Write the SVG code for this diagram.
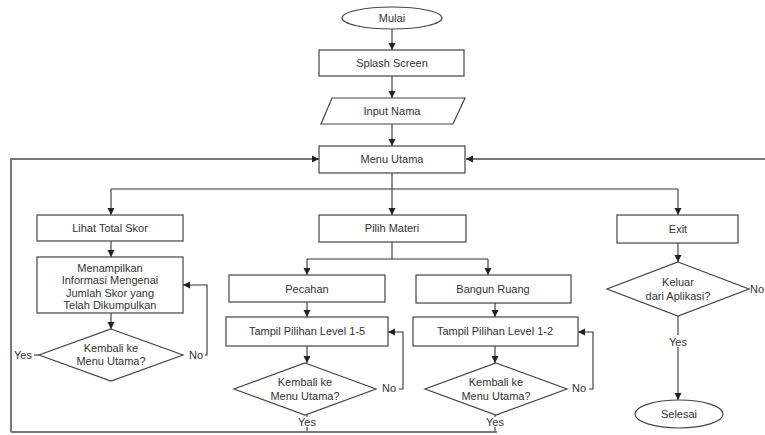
<svg xmlns="http://www.w3.org/2000/svg" width="765" height="435" viewBox="0 0 765 435">
<defs>
<marker id="ah" markerWidth="8" markerHeight="8" refX="7" refY="4" orient="auto" markerUnits="userSpaceOnUse">
<path d="M0,0.5 L7,4 L0,7.5 Z" fill="#222"/>
</marker>
<style>
.s{fill:#fff;stroke:#444;stroke-width:1.2}
.t{font-family:"Liberation Sans",Arial,sans-serif;font-size:11px;fill:#333;text-anchor:middle}
.c{fill:none;stroke:#333;stroke-width:1.1}
.a{marker-end:url(#ah)}
.g{fill:none;stroke:#777;stroke-width:2}
</style>
</defs>
<rect width="765" height="435" fill="#fff"/>
<g id="connectors">
<line class="c a" x1="392" y1="29" x2="392" y2="50"/>
<line class="c a" x1="392" y1="76" x2="392" y2="98"/>
<line class="c a" x1="392" y1="124" x2="392" y2="146"/>
<polyline class="g a" points="11,432 11,159 319,159"/>
<line class="g a" x1="765" y1="159" x2="466" y2="159"/>
<polyline class="c" points="392,173 392,189"/>
<polyline class="c a" points="111,189 111,215"/>
<line class="c" x1="111" y1="189" x2="678" y2="189"/>
<line class="c a" x1="392" y1="189" x2="392" y2="215"/>
<line class="c a" x1="678" y1="189" x2="678" y2="215"/>
<line class="c a" x1="111" y1="241" x2="111" y2="257"/>
<line class="c a" x1="111" y1="313" x2="111" y2="329"/>
<line class="c" x1="39" y1="355" x2="34" y2="355"/>
<polyline class="c a" points="205,355 207,355 207,285 183,285"/>
<polyline class="c" points="392,242 392,259"/>
<line class="c" x1="307" y1="259" x2="488" y2="259"/>
<line class="c a" x1="307" y1="259" x2="307" y2="275"/>
<line class="c a" x1="488" y1="259" x2="488" y2="275"/>
<line class="c a" x1="307" y1="302" x2="307" y2="317"/>
<line class="c a" x1="495" y1="303" x2="495" y2="317"/>
<line class="c a" x1="307" y1="346" x2="307" y2="363"/>
<line class="c a" x1="495" y1="346" x2="495" y2="363"/>
<polyline class="c a" points="399,389 403,389 403,332 388,332"/>
<polyline class="c a" points="589,389 593,389 593,332 578,332"/>
<line class="c" x1="307" y1="415" x2="307" y2="417"/>
<line class="c" x1="495" y1="415" x2="495" y2="417"/>
<line class="c" x1="307" y1="427" x2="307" y2="432"/>
<line class="c" x1="495" y1="427" x2="495" y2="432"/>
<line class="g" x1="11" y1="432" x2="497" y2="432"/>
<line class="c a" x1="678" y1="242" x2="678" y2="262"/>
<line class="c" x1="678" y1="316" x2="678" y2="335"/>
<line class="c a" x1="678" y1="347" x2="678" y2="400"/>
</g>
<g id="mulai"><ellipse class="s" cx="392" cy="18" rx="50" ry="11"/><text class="t" x="392" y="22">Mulai</text></g>
<g id="splash"><rect class="s" x="319" y="50" width="145" height="26"/><text class="t" x="392" y="67">Splash Screen</text></g>
<g id="input"><polygon class="s" points="332,98 465,98 453,124 321,124"/><text class="t" x="392" y="115">Input Nama</text></g>
<g id="menu"><rect class="s" x="319" y="146" width="146" height="27"/><text class="t" x="392" y="163">Menu Utama</text></g>
<g id="lihat"><rect class="s" x="37" y="215" width="146" height="26"/><text class="t" x="110" y="232">Lihat Total Skor</text></g>
<g id="menampilkan"><rect class="s" x="37" y="257" width="146" height="56"/>
<text class="t" x="110" y="272">Menampilkan</text><text class="t" x="110" y="284">Informasi Mengenai</text><text class="t" x="110" y="297">Jumlah Skor yang</text><text class="t" x="110" y="309">Telah Dikumpulkan</text></g>
<g id="kembali1"><polygon class="s" points="111,329 183,355 111,381 39,355"/><text class="t" x="111" y="352">Kembali ke</text><text class="t" x="111" y="365">Menu Utama?</text>
<text class="t" x="23" y="359">Yes</text><text class="t" x="196" y="359">No</text></g>
<g id="pilih"><rect class="s" x="319" y="215" width="147" height="27"/><text class="t" x="392" y="232">Pilih Materi</text></g>
<g id="pecahan"><rect class="s" x="229" y="275" width="156" height="27"/><text class="t" x="307" y="293">Pecahan</text></g>
<g id="bangun"><rect class="s" x="416" y="275" width="155" height="28"/><text class="t" x="493" y="293">Bangun Ruang</text></g>
<g id="level15"><rect class="s" x="226" y="317" width="162" height="29"/><text class="t" x="307" y="335">Tampil Pilihan Level 1-5</text></g>
<g id="level12"><rect class="s" x="413" y="317" width="165" height="29"/><text class="t" x="495" y="335">Tampil Pilihan Level 1-2</text></g>
<g id="kembali2"><polygon class="s" points="305,363 376,389 305,415 234,389"/><text class="t" x="305" y="386">Kembali ke</text><text class="t" x="305" y="400">Menu Utama?</text>
<text class="t" x="389" y="392">No</text><text class="t" x="307" y="426">Yes</text></g>
<g id="kembali3"><polygon class="s" points="496,363 567,389 496,415 425,389"/><text class="t" x="496" y="386">Kembali ke</text><text class="t" x="496" y="400">Menu Utama?</text>
<text class="t" x="579" y="392">No</text><text class="t" x="495" y="426">Yes</text></g>
<g id="exit"><rect class="s" x="617" y="215" width="121" height="28"/><text class="t" x="678" y="233">Exit</text></g>
<g id="keluar"><polygon class="s" points="678,262 749,289 678,316 607,289" /><text class="t" x="678" y="286">Keluar</text><text class="t" x="678" y="300">dari Aplikasi?</text>
<text class="t" x="750" y="293" style="text-anchor:start">No</text><text class="t" x="678" y="346">Yes</text></g>
<g id="selesai"><ellipse class="s" cx="679" cy="414" rx="44" ry="14"/><text class="t" x="679" y="418">Selesai</text></g>
</svg>
